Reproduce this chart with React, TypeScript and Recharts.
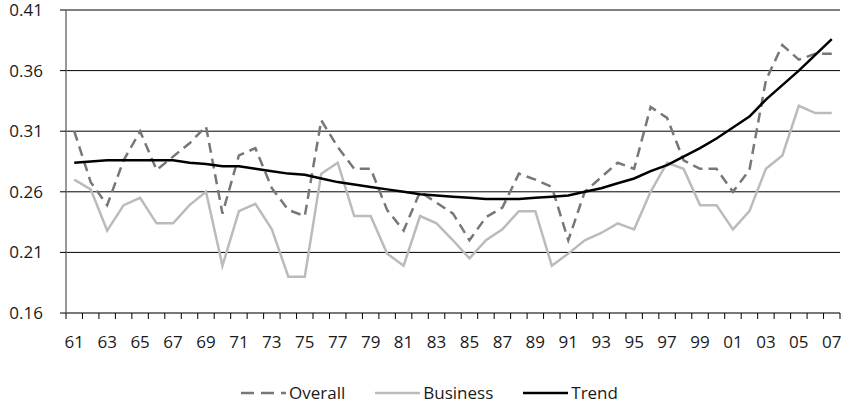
import { LineChart, Line, XAxis, YAxis, CartesianGrid, Legend } from 'recharts'

const years = [
  '61', '62', '63', '64', '65', '66', '67', '68', '69', '70',
  '71', '72', '73', '74', '75', '76', '77', '78', '79', '80',
  '81', '82', '83', '84', '85', '86', '87', '88', '89', '90',
  '91', '92', '93', '94', '95', '96', '97', '98', '99', '00',
  '01', '02', '03', '04', '05', '06', '07',
]

const overall = [
  0.31, 0.268, 0.249, 0.286, 0.31, 0.278, 0.289, 0.3, 0.314, 0.242,
  0.29, 0.296, 0.263, 0.245, 0.24, 0.319, 0.297, 0.279, 0.279, 0.245,
  0.228, 0.26, 0.251, 0.242, 0.22, 0.239, 0.247, 0.275, 0.27, 0.264,
  0.22, 0.26, 0.272, 0.284, 0.279, 0.33, 0.321, 0.286, 0.279, 0.279,
  0.26, 0.278, 0.352, 0.381, 0.369, 0.374, 0.374,
]

const business = [
  0.27, 0.262, 0.228, 0.249, 0.255, 0.234, 0.234, 0.249, 0.26, 0.199,
  0.244, 0.25, 0.229, 0.19, 0.19, 0.275, 0.284, 0.24, 0.24, 0.209,
  0.199, 0.24, 0.234, 0.22, 0.205, 0.22, 0.229, 0.244, 0.244, 0.199,
  0.209, 0.22, 0.226, 0.234, 0.229, 0.26, 0.284, 0.279, 0.249, 0.249,
  0.229, 0.244, 0.279, 0.29, 0.331, 0.325, 0.325,
]

const trend = [
  0.284, 0.285, 0.286, 0.286, 0.286, 0.286, 0.286, 0.284, 0.283, 0.281,
  0.281, 0.279, 0.277, 0.275, 0.274, 0.271, 0.268, 0.266, 0.264, 0.262,
  0.26, 0.258, 0.257, 0.256, 0.255, 0.254, 0.254, 0.254, 0.255, 0.256,
  0.257, 0.26, 0.263, 0.267, 0.271, 0.277, 0.282, 0.289, 0.296, 0.304,
  0.313, 0.322, 0.336, 0.348, 0.36, 0.373, 0.386,
]

const yTicks = [0.16, 0.21, 0.26, 0.31, 0.36, 0.41]

const data = years.map((y, i) => ({
  year: y,
  overall: overall[i],
  business: business[i],
  trend: trend[i],
}))

const W = 844
const H = 406
const M = { top: 10, right: 4, left: 0, bottom: 0 }
const Y_W = 66
const FONT = '"Open Sans", "Noto Sans", sans-serif'
const FS = 17
const band = (W - M.left - M.right - Y_W) / years.length

// tick marks sit on the category boundaries, labels on every other year
function XTick(props: any) {
  const { x, y, payload, index } = props
  return (
    <g>
      <line x1={x - band / 2} x2={x - band / 2} y1={y} y2={y + 6} stroke="#000" strokeWidth={1} />
      {index === years.length - 1 && (
        <line x1={x + band / 2} x2={x + band / 2} y1={y} y2={y + 6} stroke="#000" strokeWidth={1} />
      )}
      {index % 2 === 0 && (
        <text x={x} y={y + 30} textAnchor="middle" dominantBaseline="middle" fontSize={FS} fill="#1a1a1a" fontFamily={FONT}>
          {payload.value}
        </text>
      )}
    </g>
  )
}

function LegendContent() {
  const items = [
    { label: 'Overall', color: '#777', dash: '13 7' },
    { label: 'Business', color: '#bbb', dash: undefined },
    { label: 'Trend', color: '#000', dash: undefined },
  ]
  return (
    <div style={{ display: 'flex', justifyContent: 'center', gap: 30, fontFamily: FONT, fontSize: FS, color: '#1a1a1a', marginTop: 18, paddingLeft: 19 }}>
      {items.map((it) => (
        <div key={it.label} style={{ display: 'flex', alignItems: 'center' }}>
          <svg width={45} height={10} style={{ marginRight: 3 }}>
            <line x1={0} x2={45} y1={5} y2={5} stroke={it.color} strokeWidth={2.5} strokeDasharray={it.dash} />
          </svg>
          <span>{it.label}</span>
        </div>
      ))}
    </div>
  )
}

export default function App() {
  return (
    <div style={{ position: 'absolute', left: 0, top: 0 }}>
      <LineChart width={W} height={H} data={data} margin={M}>
        <CartesianGrid vertical={false} stroke="#000" strokeWidth={1} />
        <XAxis
          dataKey="year"
          interval={0}
          tickLine={false}
          tickSize={0}
          tickMargin={0}
          padding={{ left: band / 2, right: band / 2 }}
          axisLine={{ stroke: '#777', strokeWidth: 1.5 }}
          tick={<XTick />}
          height={50}
        />
        <YAxis
          domain={[0.16, 0.41]}
          ticks={yTicks}
          width={Y_W}
          axisLine={{ stroke: '#777', strokeWidth: 1.5 }}
          tickLine={{ stroke: '#000' }}
          tickSize={6}
          tickMargin={17}
          tickFormatter={(v) => v.toFixed(2)}
          tick={{ fontSize: FS, fill: '#1a1a1a', fontFamily: FONT }}
        />
        <Legend verticalAlign="bottom" content={<LegendContent />} wrapperStyle={{ height: 43 }} />
        <Line dataKey="overall" stroke="#777" strokeWidth={2.5} strokeDasharray="10 6" dot={false} isAnimationActive={false} />
        <Line dataKey="business" stroke="#bbb" strokeWidth={2.5} dot={false} isAnimationActive={false} />
        <Line dataKey="trend" stroke="#000" strokeWidth={2.5} dot={false} isAnimationActive={false} />
      </LineChart>
    </div>
  )
}
